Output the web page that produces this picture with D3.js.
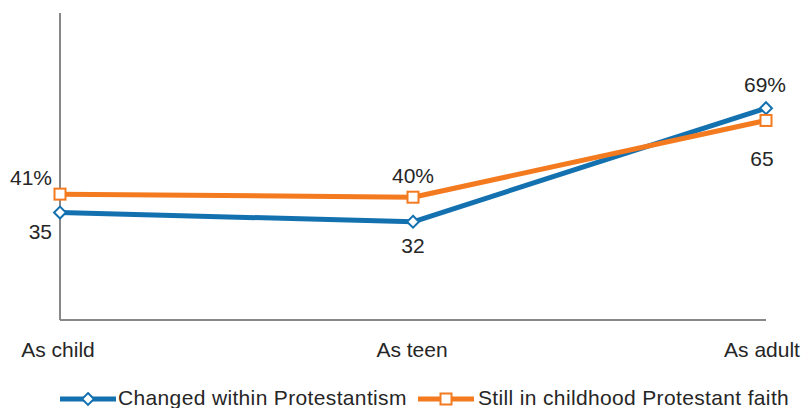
<!DOCTYPE html>
<html><head><meta charset="utf-8">
<script src="https://cdn.jsdelivr.net/npm/d3@7"></script>
<style>body{margin:0;background:#fff;}text{font-family:"Liberation Sans",Arial,sans-serif;fill:#262626;}</style>
</head><body>
<svg id="c" width="804" height="408"></svg>
<script>
const categories = ["As child", "As teen", "As adult"];
const changed = [35, 32, 69];
const still = [41, 40, 65];
const changedLabels = ["35", "32", "69%"];
const stillLabels = ["41%", "40%", "65"];
const seriesNames = ["Changed within Protestantism", "Still in childhood Protestant faith"];

const svg = d3.select("#c");
const x = d3.scalePoint().domain(categories).range([60, 766]);
const y = d3.scaleLinear().domain([0, 100]).range([320, 13]);
const blue = "#1471b0", orange = "#f47a20";
const FS = 21;

svg.append("line").attr("x1", 60).attr("x2", 60).attr("y1", y(100)).attr("y2", y(0)).attr("stroke", "#888").attr("stroke-width", 2);
svg.append("line").attr("x1", 60).attr("x2", 766).attr("y1", y(0)).attr("y2", y(0)).attr("stroke", "#888").attr("stroke-width", 2);

svg.selectAll(".cat").data(categories).join("text").attr("class","cat")
  .attr("x", (d,i) => x(d) + [-2,-1,-4][i]).attr("y", 357).attr("text-anchor","middle").attr("font-size",FS).text(d=>d);

const line = d3.line().x((d,i)=>x(categories[i])).y(d=>y(d));
function marker(g, cx, cy, color, shape){
  if(shape==="diamond"){
    g.append("path").attr("d", d3.symbol(d3.symbolDiamond2, 90)()).attr("transform",`translate(${cx},${cy})`)
      .attr("fill","#fff").attr("stroke",color).attr("stroke-width",2);
  } else {
    g.append("rect").attr("x",cx-5.5).attr("y",cy-5.5).attr("width",11).attr("height",11).attr("fill","#fff").attr("stroke",color).attr("stroke-width",2);
  }
}
function drawSeries(vals, color, shape){
  svg.append("path").attr("d", line(vals)).attr("fill","none").attr("stroke",color).attr("stroke-width",5).attr("stroke-linejoin","round");
  vals.forEach((v,i)=> marker(svg, x(categories[i]), y(v), color, shape));
}
drawSeries(changed, blue, "diamond");
drawSeries(still, orange, "square");

// value labels
const labelPos = [
  {t: stillLabels[0], cx: x(categories[0]), v: still[0], dx:-8, dy:-9, a:"end"},
  {t: changedLabels[0], cx: x(categories[0]), v: changed[0], dx:-8, dy:26, a:"end"},
  {t: stillLabels[1], cx: x(categories[1]), v: still[1], dx:0, dy:-14, a:"middle"},
  {t: changedLabels[1], cx: x(categories[1]), v: changed[1], dx:0, dy:31, a:"middle"},
  {t: changedLabels[2], cx: x(categories[2]), v: changed[2], dx:-1, dy:-16, a:"middle"},
  {t: stillLabels[2], cx: x(categories[2]), v: still[2], dx:-4, dy:46, a:"middle"}
];
svg.selectAll(".val").data(labelPos).join("text").attr("class","val")
  .attr("x", d=>d.cx+d.dx).attr("y", d=>y(d.v)+d.dy).attr("text-anchor",d=>d.a).attr("font-size",FS).text(d=>d.t);

// legend
const leg = [{name: seriesNames[0], color: blue, shape:"diamond", x:60, tx:118},
             {name: seriesNames[1], color: orange, shape:"square", x:418, tx:478}];
leg.forEach(l=>{
  const ly = 399;
  svg.append("line").attr("x1", l.x).attr("x2", l.x+56).attr("y1", ly).attr("y2", ly).attr("stroke", l.color).attr("stroke-width",5);
  marker(svg, l.x+28, ly, l.color, l.shape);
  svg.append("text").attr("x", l.tx).attr("y", ly+6).attr("font-size",FS).attr("letter-spacing",0.35).text(l.name);
});
</script>
</body></html>
